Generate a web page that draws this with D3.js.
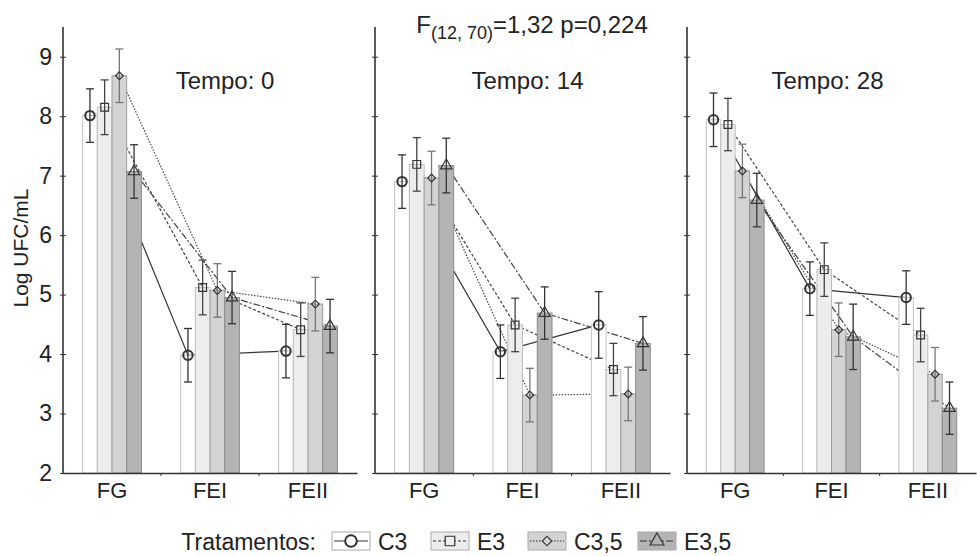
<!DOCTYPE html>
<html>
<head>
<meta charset="utf-8">
<script src="https://cdn.jsdelivr.net/npm/d3@7"></script>
<style>
  body { margin: 0; background: #fff; }
  text { font-family: "Liberation Sans", Arial, sans-serif; fill: #222; }
</style>
</head>
<body>
<div id="wrapper"></div>
<script>
const groups = ["FG", "FEI", "FEII"];
const series = ["C3", "E3", "C3,5", "E3,5"];
const panelTitles = ["Tempo: 0", "Tempo: 14", "Tempo: 28"];
const yTicks = [2, 3, 4, 5, 6, 7, 8, 9];

// means: one row per treatment (C3, E3, C3,5, E3,5), columns FG, FEI, FEII
const meansT0 = [[8.01, 3.98, 4.05], [8.15, 5.12, 4.41], [8.68, 5.07, 4.84], [7.07, 4.95, 4.47]];
const meansT14 = [[6.90, 4.04, 4.49], [7.19, 4.49, 3.74], [6.96, 3.31, 3.33], [7.17, 4.69, 4.18]];
const meansT28 = [[7.94, 5.10, 4.95], [7.86, 5.42, 4.32], [7.08, 4.41, 3.66], [6.59, 4.29, 3.09]];
// half width of the error bars, same layout
const errT0 = [[0.45, 0.45, 0.45], [0.46, 0.46, 0.45], [0.45, 0.45, 0.45], [0.45, 0.44, 0.45]];
const errT14 = [[0.45, 0.45, 0.56], [0.45, 0.45, 0.44], [0.45, 0.45, 0.45], [0.46, 0.44, 0.45]];
const errT28 = [[0.45, 0.45, 0.45], [0.44, 0.45, 0.45], [0.45, 0.45, 0.45], [0.45, 0.55, 0.44]];

const allMeans = [meansT0, meansT14, meansT28];
const allErr = [errT0, errT14, errT28];

let dimensions = {
  width: 977,
  height: 556,
  yTop: 27,
  yBottom: 473,
  panels: [[63, 357], [375, 670], [687, 976]]
};

const barFill = ["#ffffff", "#ededed", "#d3d3d3", "#b4b4b4"];
const barStroke = ["#c2c2c2", "#bdbdbd", "#9c9c9c", "#8c8c8c"];
const errColor = ["#333", "#444", "#777", "#333"];
const lineDash = [null, "3,2", "1.5,1.5", "7,2,2,2"];
const symbols = [d3.symbolCircle, d3.symbolSquare, d3.symbolSquare, d3.symbolTriangle];
const symbolSize = [70, 60, 30, 55];
const symbolRot = [0, 0, 45, 0];

let svg = d3.select("#wrapper").append("svg")
  .attr("width", dimensions.width)
  .attr("height", dimensions.height);

let yScale = d3.scaleLinear()
  .domain([2, 9.5])
  .range([dimensions.yBottom, dimensions.yTop]);

function drawPanel(p) {
  const [x0, x1] = dimensions.panels[p];
  const means = allMeans[p];
  const errs = allErr[p];
  let g = svg.append("g");

  let xScale = d3.scaleBand().domain(groups).range([x0, x1]);
  const bw = xScale.bandwidth();
  let inner = d3.scaleBand().domain(series).range([bw * 0.2, bw * 0.8]);
  const cx = (s, gi) => xScale(groups[gi]) + inner(series[s]) + inner.bandwidth() / 2;

  // connecting lines sit behind the bars
  const line = d3.line().x(d => d[0]).y(d => d[1]);
  series.forEach((name, s) => {
    const pts = groups.map((gr, gi) => [cx(s, gi), yScale(means[s][gi])]);
    g.append("path")
      .attr("d", line(pts))
      .attr("fill", "none")
      .attr("stroke", s == 0 ? "#333" : "#444")
      .attr("stroke-width", 1.2)
      .attr("stroke-dasharray", lineDash[s]);
  });

  // bars
  series.forEach((name, s) => {
    g.selectAll(null)
      .data(groups)
      .enter()
      .append("rect")
      .attr("x", (d, gi) => xScale(d) + inner(name))
      .attr("y", (d, gi) => yScale(means[s][gi]))
      .attr("width", inner.bandwidth())
      .attr("height", (d, gi) => dimensions.yBottom - yScale(means[s][gi]))
      .attr("fill", barFill[s])
      .attr("stroke", barStroke[s])
      .attr("stroke-width", 1);
  });

  // error bars and markers
  series.forEach((name, s) => {
    groups.forEach((gr, gi) => {
      const x = cx(s, gi);
      const hi = yScale(means[s][gi] + errs[s][gi]);
      const lo = yScale(means[s][gi] - errs[s][gi]);
      g.append("line").attr("x1", x).attr("x2", x).attr("y1", hi).attr("y2", lo)
        .attr("stroke", errColor[s]).attr("stroke-width", 1.3);
      [hi, lo].forEach(yy => {
        g.append("line").attr("x1", x - 4).attr("x2", x + 4).attr("y1", yy).attr("y2", yy)
          .attr("stroke", errColor[s]).attr("stroke-width", 1.3);
      });
      g.append("path")
        .attr("d", d3.symbol().type(symbols[s]).size(symbolSize[s])())
        .attr("transform", `translate(${x},${yScale(means[s][gi])}) rotate(${symbolRot[s]})`)
        .attr("fill", "none")
        .attr("stroke", "#333")
        .attr("stroke-width", s == 0 ? 2 : 1.2);
    });
  });

  // axes
  let yAxisGen = d3.axisLeft(yScale).tickValues(yTicks).tickSize(3).tickPadding(8);
  if (p > 0) yAxisGen.tickFormat("");
  const axisY = g.append("g").attr("transform", `translate(${x0},0)`).call(yAxisGen);
  axisY.select(".domain").remove();
  axisY.selectAll(".tick line").attr("x2", 3).attr("x1", -3).attr("stroke", "#333");
  axisY.selectAll("text").style("font-size", "23px").attr("fill", "#222");
  g.append("line").attr("x1", x0).attr("x2", x0).attr("y1", dimensions.yTop).attr("y2", dimensions.yBottom)
    .attr("stroke", "#333").attr("stroke-width", 1.6);

  let xAxisGen = d3.axisBottom(xScale).tickSize(0).tickPadding(9);
  const axisX = g.append("g").attr("transform", `translate(0,${dimensions.yBottom})`).call(xAxisGen);
  axisX.select(".domain").attr("stroke", "#333").attr("stroke-width", 1.6);
  axisX.selectAll("text").style("font-size", "22px").attr("fill", "#222");
  groups.slice(1).forEach(gr => {
    g.append("line").attr("x1", xScale(gr)).attr("x2", xScale(gr))
      .attr("y1", dimensions.yBottom).attr("y2", dimensions.yBottom + 3)
      .attr("stroke", "#333");
  });

  g.append("text")
    .attr("x", (x0 + x1) / 2 + [15, 5, -4][p])
    .attr("y", 89)
    .attr("text-anchor", "middle")
    .style("font-size", "24px")
    .text(panelTitles[p]);
}

[0, 1, 2].forEach(drawPanel);

svg.append("text")
  .attr("transform", "translate(28,248) rotate(-90)")
  .attr("text-anchor", "middle")
  .style("font-size", "21px")
  .text("Log UFC/mL");

// F statistic header
let header = svg.append("text")
  .attr("x", 532)
  .attr("y", 33)
  .attr("text-anchor", "middle")
  .style("font-size", "24px");
header.append("tspan").text("F");
header.append("tspan").attr("dy", 6).style("font-size", "18px").text("(12, 70)");
header.append("tspan").attr("dy", -6).text("=1,32 p=0,224");

// legend
const legendX = [332, 431, 528, 638];
svg.append("text")
  .attr("x", 316)
  .attr("y", 550)
  .attr("text-anchor", "end")
  .style("font-size", "23px")
  .text("Tratamentos:");
series.forEach((name, s) => {
  const lx = legendX[s];
  let lg = svg.append("g").attr("transform", `translate(${lx},532)`);
  lg.append("rect").attr("width", 38).attr("height", 18)
    .attr("fill", barFill[s]).attr("stroke", "#aaa");
  lg.append("line").attr("x1", 2).attr("x2", 36).attr("y1", 9).attr("y2", 9)
    .attr("stroke", "#333").attr("stroke-width", 1.2).attr("stroke-dasharray", lineDash[s]);
  lg.append("path")
    .attr("d", d3.symbol().type(symbols[s]).size(symbolSize[s] * 1.5)())
    .attr("transform", `translate(19,9) rotate(${symbolRot[s]})`)
    .attr("fill", barFill[s])
    .attr("stroke", "#333")
    .attr("stroke-width", s == 0 ? 2 : 1.2);
  lg.append("text").attr("x", 46).attr("y", 18)
    .style("font-size", "23px")
    .text(name);
});
</script>
</body>
</html>
